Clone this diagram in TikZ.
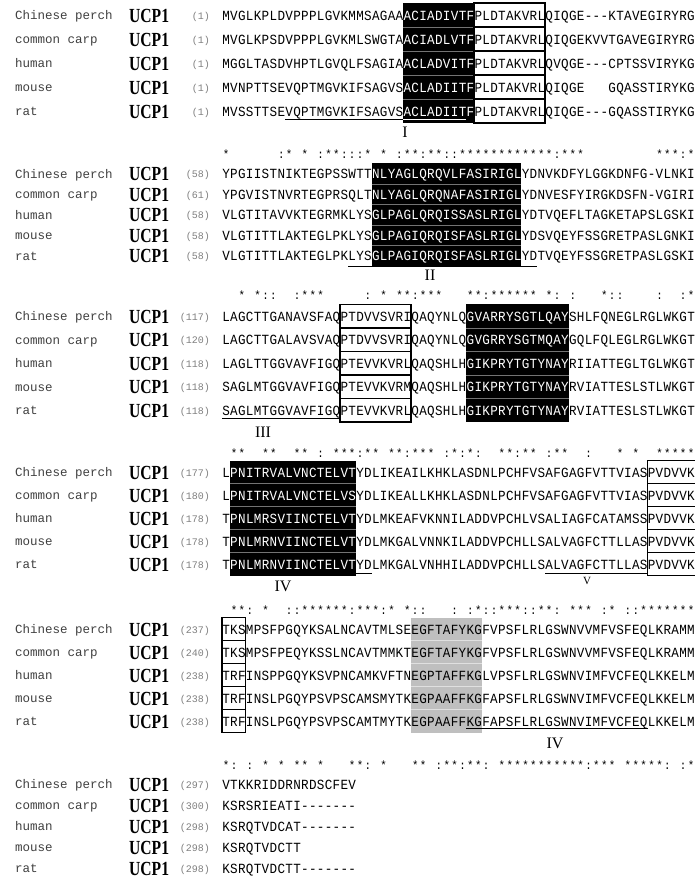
\documentclass[tikz,border=0pt]{standalone}
\usepackage{fontspec}
\setmainfont{Liberation Serif}
\newfontfamily\seqfont[FakeStretch=0.9]{Liberation Mono}
\newfontfamily\namefont{Liberation Mono}
\newfontfamily\genefont[FakeStretch=0.78]{Liberation Serif}
\newlength\cw \setlength\cw{7.88pt}
\newcount\colidx \newcount\colfrom \newcount\colto
\def\seqcols#1#2#3{\colfrom=#1\relax\colto=#2\relax\colidx=0\relax\seqcolsA#3\relax}
\def\seqcolsA#1{\ifx#1\relax\else\seqcolsB{#1}\expandafter\seqcolsA\fi}
\def\seqcolsB#1{\makebox[\cw][c]{\ifx#1_\else\ifnum\colidx<\colfrom\relax#1\else\ifnum\colidx>\colto\relax#1\else\textcolor{white}{#1}\fi\fi\fi}\advance\colidx by 1\relax}
\tikzset{
 seqtxt/.style={inner sep=0pt, anchor=base west, font=\fontsize{14}{14}\seqfont},
 constxt/.style={inner sep=0pt, anchor=base west, font=\fontsize{12}{12}\seqfont},
 spname/.style={inner sep=0pt, anchor=base west, font=\fontsize{12.5}{12.5}\namefont, text=black!75},
 gene/.style={inner sep=0pt, anchor=base west, font=\fontsize{20}{20}\genefont\bfseries},
 numtxt/.style={inner sep=0pt, anchor=base east, font=\fontsize{10}{10}\namefont, text=black!50},
 tmlabel/.style={inner sep=0pt, anchor=base, font=\fontsize{16}{16}\selectfont},
 tmsmall/.style={inner sep=0pt, anchor=base, font=\fontsize{11}{11}\selectfont},
 blackbox/.style={fill=black, draw=none},
 whitebox/.style={draw=black, line width=1.5pt, fill=white},
 graybox/.style={fill=black!25, draw=none},
 sepline/.style={draw=black!55, line width=0.5pt},
 gsepline/.style={draw=black!12, line width=0.5pt},
 uline/.style={draw=black, line width=0.9pt},
 wline/.style={draw=white, line width=0.9pt},
}
\newcommand\seqrow[7]{%
 \node[spname] (#1n) at (15,#2+4.5) {#3};
 \node[gene] (#1g) at (129,#2+7) {UCP1};
 \node[numtxt] (#1k) at (210,#2+4) {(#4)};
 \node[seqtxt] (#1s) at (222,#2+5) {\seqcols{#6}{#7}{#5}};
}
\begin{document}
\begin{tikzpicture}[x=1pt,y=-1pt]
\useasboundingbox[fill=white] (0,0) rectangle (695,879);
% ---------- block 1 ----------
\fill[blackbox] (403.24,3) rectangle (474.16,123);
\foreach \yy in {27,51,75,99} \draw[sepline] (403.24,\yy) -- (474.16,\yy);
\foreach \yy in {15,39,63,87,111} \draw[whitebox] (474.16,\yy-12) rectangle (545.08,\yy+12);
\seqrow{a1}{15}{Chinese perch}{1}{MVGLKPLDVPPPLGVKMMSAGAAACIADIVTFPLDTAKVRLQIQGE---KTAVEGIRYRG}{23}{31}
\seqrow{a2}{39}{common carp}{1}{MVGLKPSDVPPPLGVKMLSWGTAACIADLVTFPLDTAKVRLQIQGEKVVTGAVEGIRYRG}{23}{31}
\seqrow{a3}{63}{human}{1}{MGGLTASDVHPTLGVQLFSAGIAACLADVITFPLDTAKVRLQVQGE---CPTSSVIRYKG}{23}{31}
\seqrow{a4}{87}{mouse}{1}{MVNPTTSEVQPTMGVKIFSAGVSACLADIITFPLDTAKVRLQIQGE___GQASSTIRYKG}{23}{31}
\seqrow{a5}{111}{rat}{1}{MVSSTTSEVQPTMGVKIFSAGVSACLADIITFPLDTAKVRLQIQGE---GQASSTIRYKG}{23}{31}
\draw[uline] (285.04,119.5) -- (403.24,119.5);
\draw[wline] (403.24,119.5) -- (466.28,119.5);
\node[tmlabel] (L1) at (405,137.5) {I};
\node[constxt] (c1) at (222,158) {\seqcols{100}{-1}{*______:*_*_:**:::*_*_:**:**::************:***_________***:*}};
% ---------- block 2 ----------
\fill[blackbox] (371.72,163.25) rectangle (521.44,265.75);
\foreach \yy in {183.75,204.25,224.75,245.25} \draw[sepline] (371.72,\yy) -- (521.44,\yy);
\seqrow{b1}{173.5}{Chinese perch}{58}{YPGIISTNIKTEGPSSWTTNLYAGLQRQVLFASIRIGLYDNVKDFYLGGKDNFG-VLNKI}{19}{37}
\seqrow{b2}{194}{common carp}{61}{YPGVISTNVRTEGPRSQLTNLYAGLQRQNAFASIRIGLYDNVESFYIRGKDSFN-VGIRI}{19}{37}
\seqrow{b3}{214.5}{human}{58}{VLGTITAVVKTEGRMKLYSGLPAGLQRQISSASLRIGLYDTVQEFLTAGKETAPSLGSKI}{19}{37}
\seqrow{b4}{235}{mouse}{58}{VLGTITTLAKTEGLPKLYSGLPAGIQRQISFASLRIGLYDSVQEYFSSGRETPASLGNKI}{19}{37}
\seqrow{b5}{255.5}{rat}{58}{VLGTITTLAKTEGLPKLYSGLPAGIQRQISFASLRIGLYDTVQEYFSSGRETPASLGSKI}{19}{37}
\draw[uline] (348.08,266.3) -- (537.2,266.3);
\node[tmlabel] (L2) at (430,280.5) {II};
\node[constxt] (c2) at (222,299) {\seqcols{100}{-1}{__*_*::__:***_____:_*_**:***___**:******_*:_:___*::____:__:*}};
% ---------- block 3 ----------
\foreach \yy in {316,339.5,363,386.5,410} \draw[whitebox] (340.2,\yy-11.75) rectangle (411.12,\yy+11.75);
\fill[blackbox] (466.28,304.25) rectangle (568.72,421.75);
\foreach \yy in {327.75,351.25,374.75,398.25} \draw[sepline] (466.28,\yy) -- (568.72,\yy);
\seqrow{c1}{316}{Chinese perch}{117}{LAGCTTGANAVSFAQPTDVVSVRIQAQYNLQGVARRYSGTLQAYSHLFQNEGLRGLWKGT}{31}{43}
\seqrow{c2}{339.5}{common carp}{120}{LAGCTTGALAVSVAQPTDVVSVRIQAQYNLQGVGRRYSGTMQAYGQLFQLEGLRGLWKGT}{31}{43}
\seqrow{c3}{363}{human}{118}{LAGLTTGGVAVFIGQPTEVVKVRLQAQSHLHGIKPRYTGTYNAYRIIATTEGLTGLWKGT}{31}{43}
\seqrow{c4}{386.5}{mouse}{118}{SAGLMTGGVAVFIGQPTEVVKVRMQAQSHLHGIKPRYTGTYNAYRVIATTESLSTLWKGT}{31}{43}
\seqrow{c5}{410}{rat}{118}{SAGLMTGGVAVFIGQPTEVVKVRLQAQSHLHGIKPRYTGTYNAYRVIATTESLSTLWKGT}{31}{43}
\draw[uline] (222,418.5) -- (340.2,418.5);
\node[tmlabel] (L3) at (263,437.5) {III};
\node[constxt] (c3) at (222,457) {\seqcols{100}{-1}{_**__**__**_:_***:**_**:***_:*:*:__**:**_:**__:___*_*__*****}};
% ---------- block 4 ----------
\fill[blackbox] (229.88,460.5) rectangle (355.96,575.5);
\foreach \yy in {483.5,506.5,529.5,552.5} \draw[sepline] (229.88,\yy) -- (355.96,\yy);
\foreach \yy in {472,495,518,541,564} \draw[whitebox] (647.52,\yy-11.5) rectangle (705,\yy+11.5);
\seqrow{d1}{472}{Chinese perch}{177}{LPNITRVALVNCTELVTYDLIKEAILKHKLASDNLPCHFVSAFGAGFVTTVIASPVDVVK}{1}{16}
\seqrow{d2}{495}{common carp}{180}{LPNITRVALVNCTELVSYDLIKEALLKHKLASDNLPCHFVSAFGAGFVTTVIASPVDVVK}{1}{16}
\seqrow{d3}{518}{human}{178}{TPNLMRSVIINCTELVTYDLMKEAFVKNNILADDVPCHLVSALIAGFCATAMSSPVDVVK}{1}{16}
\seqrow{d4}{541}{mouse}{178}{TPNLMRNVIINCTELVTYDLMKGALVNNKILADDVPCHLLSALVAGFCTTLLASPVDVVK}{1}{16}
\seqrow{d5}{564}{rat}{178}{TPNLMRNVIINCTELVTYDLMKGALVNHHILADDVPCHLLSALVAGFCTTLLASPVDVVK}{1}{16}
\draw[uline] (355.96,573.5) -- (371.72,573.5);
\draw[uline] (545.08,573.5) -- (647.52,573.5);
\node[tmlabel] (L4) at (283,591) {IV};
\node[tmsmall] (L5) at (587,584) {V};
\node[constxt] (c4) at (222,614) {\seqcols{100}{-1}{_**:_*__::******:***:*_*::___:_:*::***::**:_***_:*_::*******}};
% ---------- block 5 ----------
\fill[graybox] (411.12,617.5) rectangle (482.04,732.5);
\foreach \yy in {640.5,663.5,686.5,709.5} \draw[gsepline] (411.12,\yy) -- (482.04,\yy);
\foreach \yy in {629,652,675,698,721} \draw[whitebox] (222,\yy-11.5) rectangle (245.64,\yy+11.5);
\seqrow{e1}{629}{Chinese perch}{237}{TKSMPSFPGQYKSALNCAVTMLSEEGFTAFYKGFVPSFLRLGSWNVVMFVSFEQLKRAMM}{100}{-1}
\seqrow{e2}{652}{common carp}{240}{TKSMPSFPEQYKSSLNCAVTMMKTEGFTAFYKGFVPSFLRLGSWNVVMFVSFEQLKRAMM}{100}{-1}
\seqrow{e3}{675}{human}{238}{TRFINSPPGQYKSVPNCAMKVFTNEGPTAFFKGLVPSFLRLGSWNVIMFVCFEQLKKELM}{100}{-1}
\seqrow{e4}{698}{mouse}{238}{TRFINSLPGQYPSVPSCAMSMYTKEGPAAFFKGFAPSFLRLGSWNVIMFVCFEQLKKELM}{100}{-1}
\seqrow{e5}{721}{rat}{238}{TRFINSLPGQYPSVPSCAMTMYTKEGPAAFFKGFAPSFLRLGSWNVIMFVCFEQLKKELM}{100}{-1}
\draw[uline] (466.28,728.5) -- (647.52,728.5);
\node[tmlabel] (L6) at (555,748) {IV};
\node[constxt] (c5) at (222,769) {\seqcols{100}{-1}{*:_:_*_*_**_*___**:_*___**_:**:**:_***********:***_*****:_:*}};
% ---------- block 6 ----------
\seqrow{f1}{784}{Chinese perch}{297}{VTKKRIDDRNRDSCFEV}{100}{-1}
\seqrow{f2}{805}{common carp}{300}{KSRSRIEATI-------}{100}{-1}
\seqrow{f3}{826}{human}{298}{KSRQTVDCAT-------}{100}{-1}
\seqrow{f4}{847}{mouse}{298}{KSRQTVDCTT}{100}{-1}
\seqrow{f5}{868}{rat}{298}{KSRQTVDCTT-------}{100}{-1}
\end{tikzpicture}
\end{document}
